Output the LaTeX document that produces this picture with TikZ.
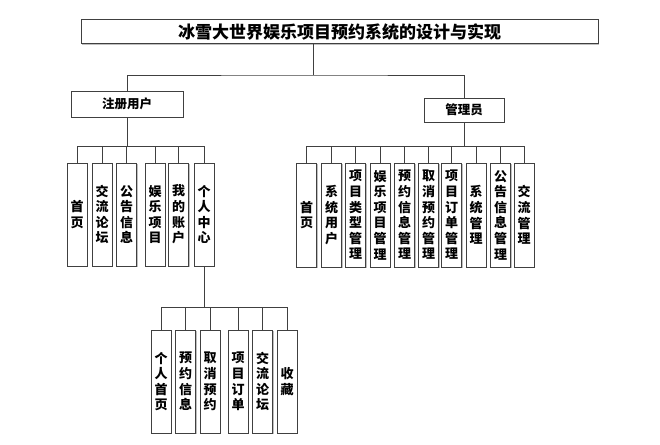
\documentclass[tikz,border=0pt]{standalone}
\usepackage{fontspec}
\newfontfamily\cjk{Noto Sans CJK SC}
\usetikzlibrary{shadows}
\begin{document}
\begin{tikzpicture}[x=1pt,y=-1pt,
  box/.style={draw=black!75, line width=1pt, fill=white, inner sep=0pt,
    drop shadow={shadow xshift=1.2pt, shadow yshift=-1.2pt, fill=black!25, opacity=1},
    font=\cjk\bfseries\fontsize{12.5}{14}\selectfont},
  col/.style={box, minimum width=20pt, minimum height=103pt, align=center,
    font=\cjk\bfseries\fontsize{13}{15.6}\selectfont},
  link/.style={draw=black!75, line width=1pt}]
\useasboundingbox (0,0) rectangle (660,444);
% title
\node[box, minimum width=517pt, minimum height=24pt, font=\cjk\bfseries\fontsize{17}{20}\selectfont] (title) at (339.5,32) {冰雪大世界娱乐项目预约系统的设计与实现};
\node[box, minimum width=112pt, minimum height=26pt] (reg) at (127,104) {注册用户};
\node[box, minimum width=80pt, minimum height=24pt] (adm) at (464,110) {管理员};
\coordinate (j0) at (313,75);
\draw[link] ([xshift=-26.5pt]title.south) -- (j0);
\draw[link] (reg.north) |- (j0) -| (adm.north);
% user children
\node[col] (u1) at (77,214.5) {首\\页};
\node[col] (u2) at (102,214.5) {交\\流\\论\\坛};
\node[col] (u3) at (126.5,214.5) {公\\告\\信\\息};
\node[col] (u4) at (155,214.5) {娱\\乐\\项\\目};
\node[col] (u5) at (178.5,214.5) {我\\的\\账\\户};
\node[col] (u6) at (204,214.5) {个\\人\\中\\心};
\coordinate (j1) at (127,146);
\draw[link] (reg.south) -- (j1);
\foreach \n in {u1,u2,u3,u4,u5,u6} \draw[link] (\n.north) |- (j1);
% admin children
\node[col, minimum height=104pt] (a1) at (306.5,215) {首\\页};
\node[col, minimum height=104pt] (a2) at (331.5,215) {系\\统\\用\\户};
\node[col, minimum height=104pt] (a3) at (355.5,215) {项\\目\\类\\型\\管\\理};
\node[col, minimum height=104pt] (a4) at (380,215) {娱\\乐\\项\\目\\管\\理};
\node[col, minimum height=104pt] (a5) at (404.5,215) {预\\约\\信\\息\\管\\理};
\node[col, minimum height=104pt] (a6) at (428.5,215) {取\\消\\预\\约\\管\\理};
\node[col, minimum height=104pt] (a7) at (451.5,215) {项\\目\\订\\单\\管\\理};
\node[col, minimum height=104pt] (a8) at (476,215) {系\\统\\管\\理};
\node[col, minimum height=104pt] (a9) at (500.5,215) {公\\告\\信\\息\\管\\理};
\node[col, minimum height=104pt] (a10) at (524,215) {交\\流\\管\\理};
\coordinate (j2) at (464,146);
\draw[link] (adm.south) -- (j2);
\foreach \n in {a1,a2,a3,a4,a5,a6,a7,a8,a9,a10} \draw[link] (\n.north) |- (j2);
% personal centre children
\node[col] (p1) at (161,381.5) {个\\人\\首\\页};
\node[col] (p2) at (185.5,381.5) {预\\约\\信\\息};
\node[col] (p3) at (210,381.5) {取\\消\\预\\约};
\node[col] (p4) at (238,381.5) {项\\目\\订\\单};
\node[col] (p5) at (262.5,381.5) {交\\流\\论\\坛};
\node[col] (p6) at (287,381.5) {收\\藏};
\coordinate (j3) at (204,307);
\draw[link] (u6.south) -- (j3);
\foreach \n in {p1,p2,p3,p4,p5,p6} \draw[link] (\n.north) |- (j3);
\end{tikzpicture}
\end{document}
